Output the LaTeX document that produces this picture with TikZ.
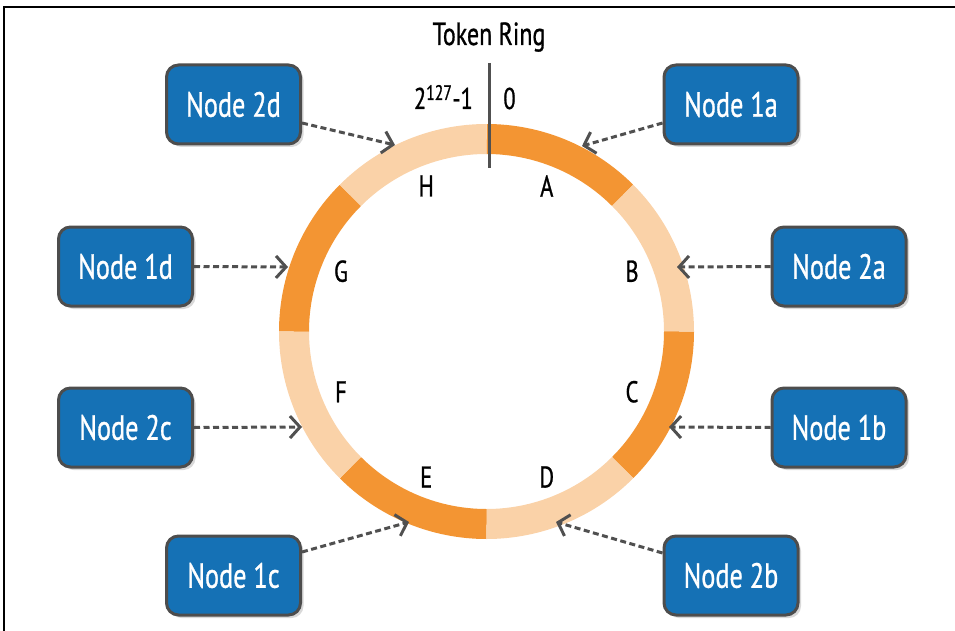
\documentclass[tikz,border=0pt]{standalone}
\usepackage{fontspec}
\setmainfont{PT Sans}[FakeStretch=0.75,FakeBold=0.8]
\usetikzlibrary{arrows.meta,shadows}
\definecolor{boxblue}{RGB}{21,113,181}
\definecolor{boxedge}{RGB}{77,77,77}
\definecolor{ringdark}{RGB}{243,149,51}
\definecolor{ringlight}{RGB}{250,210,168}
\definecolor{arrowgray}{RGB}{80,80,80}
\begin{document}
\begin{tikzpicture}[x=1pt,y=1pt,
  nodebox/.style={draw=boxedge, line width=3pt, fill=boxblue, rounded corners=12pt,
    minimum width=134pt, minimum height=79pt, inner sep=0pt, text=white,
    font=\fontsize{35}{40}\selectfont,
    drop shadow={shadow xshift=3pt, shadow yshift=-3pt, fill=black!15, opacity=1}},
  link/.style={draw=arrowgray, line width=3pt, dash pattern=on 6pt off 3.5pt,
    -{Straight Barb[length=10pt,width=22pt,line width=3pt]}},
  seglabel/.style={font=\fontsize{30}{34}\selectfont, inner sep=0pt},
  segment/.style={line width=30pt}]
\useasboundingbox (0,0) rectangle (955,-631);
\draw[line width=1.8pt] (4,-631) -- (4,-7) -- (955,-7);

% ring
\coordinate (c) at (486.5,-331.5);
\foreach \s/\col in {0/ringdark,1/ringlight,2/ringdark,3/ringlight,4/ringdark,5/ringlight,6/ringdark,7/ringlight}{
  \draw[segment, \col] (c) ++({90-45*\s}:192.5) arc[start angle={90-45*\s}, end angle={45-45*\s}, radius=192.5];
}
\foreach \l [count=\i] in {A,B,C,D,E,F,G,H}{
  \node[seglabel] (lab\l) at ([shift={({112.5-45*\i}:157.5)}]c) {\l};
}

% divider and title
\coordinate (divtop) at (489,-63);
\coordinate (divbot) at (489,-168);
\draw[arrowgray, line width=3pt] (divtop) -- (divbot);
\node[anchor=base, font=\fontsize{32}{36}\selectfont] (title) at (489,-45) {Token Ring};
\node[anchor=base east, font=\fontsize{30}{34}\selectfont, inner sep=0pt] (maxtok) at (473,-109) {2\textsuperscript{127}-1};
\node[anchor=base, font=\fontsize{30}{34}\selectfont, inner sep=0pt] (zero) at (509.5,-109) {0};

% arrow targets on the ring
\coordinate (t2d) at (395,-145);
\coordinate (t1a) at (582,-146);
\coordinate (t1d) at (288,-267);
\coordinate (t2a) at (677,-267);
\coordinate (t2c) at (302,-427);
\coordinate (t1b) at (669,-427);
\coordinate (t1c) at (409,-522);
\coordinate (t2b) at (556,-522);

% nodes
\node[nodebox] (n2d) at (233.5,-104.5) {Node 2d};
\node[nodebox] (n1a) at (731,-104.5) {Node 1a};
\node[nodebox] (n1d) at (125.5,-266.5) {Node 1d};
\node[nodebox] (n2a) at (839,-266.5) {Node 2a};
\node[nodebox] (n2c) at (125.5,-427.5) {Node 2c};
\node[nodebox] (n1b) at (839,-427.5) {Node 1b};
\node[nodebox] (n1c) at (233.5,-575.5) {Node 1c};
\node[nodebox] (n2b) at (731,-575.5) {Node 2b};

% connectors
\draw[link] ([yshift=-18.5pt]n2d.east) -- (t2d);
\draw[link] ([yshift=-18.5pt]n1a.west) -- (t1a);
\draw[link] (n1d.east) -- (t1d);
\draw[link] (n2a.west) -- (t2a);
\draw[link] (n2c.east) -- (t2c);
\draw[link] (n1b.west) -- (t1b);
\draw[link] ([yshift=23.5pt]n1c.east) -- (t1c);
\draw[link] ([yshift=22.5pt]n2b.west) -- (t2b);
\end{tikzpicture}
\end{document}
